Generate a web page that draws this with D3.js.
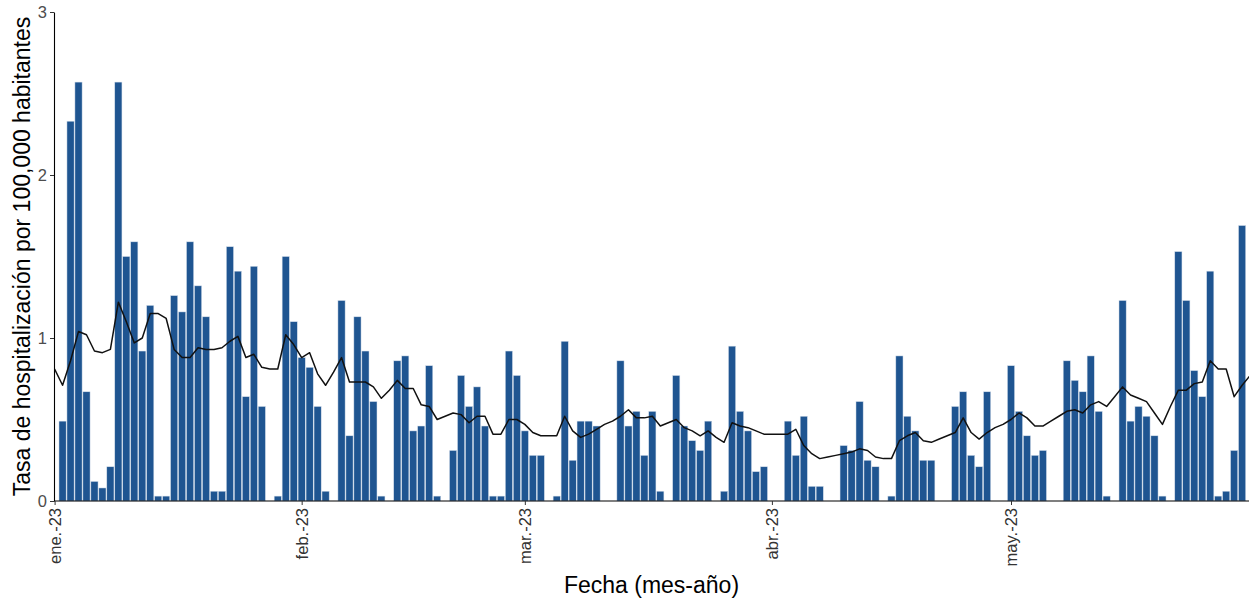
<!DOCTYPE html>
<html lang="es">
<head>
<meta charset="utf-8">
<script src="https://cdn.jsdelivr.net/npm/d3@7"></script>
<style>
  html, body { margin: 0; padding: 0; background: #ffffff; }
  svg { display: block; font-family: "Liberation Sans", Arial, sans-serif; }
</style>
</head>
<body>
<svg id="chart" width="1249" height="599"></svg>
<script>
// Daily hospitalisation rate per 100,000 inhabitants, from 1 Jan 2023 (one value per day)
const dailyRate = [
  0, 0.49, 2.33, 2.57, 0.67, 0.12, 0.08, 0.21, 2.57, 1.50,
  1.59, 0.92, 1.20, 0.03, 0.03, 1.26, 1.16, 1.59, 1.32, 1.13,
  0.06, 0.06, 1.56, 1.41, 0.64, 1.44, 0.58, 0, 0.03, 1.50,
  1.10, 0.88, 0.82, 0.58, 0.06, 0, 1.23, 0.40, 1.13, 0.92,
  0.61, 0.03, 0, 0.86, 0.89, 0.43, 0.46, 0.83, 0.03, 0,
  0.31, 0.77, 0.58, 0.70, 0.46, 0.03, 0.03, 0.92, 0.77, 0.43,
  0.28, 0.28, 0, 0.03, 0.98, 0.25, 0.49, 0.49, 0.46, 0,
  0, 0.86, 0.46, 0.55, 0.28, 0.55, 0.06, 0, 0.77, 0.46,
  0.37, 0.31, 0.49, 0, 0.06, 0.95, 0.55, 0.43, 0.18, 0.21,
  0, 0, 0.49, 0.28, 0.52, 0.09, 0.09, 0, 0, 0.34,
  0.31, 0.61, 0.25, 0.21, 0, 0.03, 0.89, 0.52, 0.43, 0.25,
  0.25, 0, 0, 0.58, 0.67, 0.28, 0.21, 0.67, 0, 0,
  0.83, 0.55, 0.40, 0.28, 0.31, 0, 0, 0.86, 0.74, 0.67,
  0.89, 0.55, 0.03, 0, 1.23, 0.49, 0.58, 0.52, 0.40, 0.03,
  0, 1.53, 1.23, 0.80, 0.64, 1.41, 0.03, 0.06, 0.31, 1.69
];

// Moving average of the daily rate, from 1 Jan 2023 to 31 May 2023
const movingAvg = [
  0.81, 0.71, 0.86, 1.04, 1.02, 0.92, 0.91, 0.93, 1.22, 1.10,
  0.97, 1.00, 1.15, 1.15, 1.12, 0.93, 0.88, 0.88, 0.94, 0.93,
  0.93, 0.94, 0.98, 1.01, 0.88, 0.90, 0.82, 0.81, 0.81, 1.02,
  0.96, 0.88, 0.91, 0.78, 0.71, 0.79, 0.88, 0.73, 0.73, 0.73,
  0.70, 0.63, 0.68, 0.74, 0.69, 0.69, 0.59, 0.58, 0.50, 0.52,
  0.54, 0.53, 0.48, 0.52, 0.52, 0.41, 0.41, 0.50, 0.50, 0.47,
  0.42, 0.40, 0.40, 0.40, 0.52, 0.43, 0.39, 0.41, 0.44, 0.47,
  0.49, 0.52, 0.56, 0.51, 0.51, 0.52, 0.46, 0.48, 0.50, 0.45,
  0.43, 0.40, 0.43, 0.39, 0.36, 0.48, 0.46, 0.45, 0.43, 0.41,
  0.41, 0.41, 0.41, 0.44, 0.34, 0.29, 0.26, 0.27, 0.28, 0.29,
  0.30, 0.32, 0.31, 0.27, 0.26, 0.26, 0.37, 0.40, 0.42, 0.37,
  0.36, 0.38, 0.40, 0.42, 0.51, 0.42, 0.38, 0.42, 0.45, 0.47,
  0.50, 0.54, 0.51, 0.46, 0.46, 0.49, 0.52, 0.55, 0.56, 0.54,
  0.59, 0.61, 0.58, 0.64, 0.70, 0.65, 0.63, 0.61, 0.54, 0.47,
  0.58, 0.68, 0.68, 0.72, 0.73, 0.86, 0.81, 0.81, 0.64, 0.71,
  0.77
];

const yTicks = [0, 1, 2, 3];
const monthLabels = ["ene.-23", "feb.-23", "mar.-23", "abr.-23", "may.-23"];
const yTitle = "Tasa de hospitalización por 100,000 habitantes";
const xTitle = "Fecha (mes-año)";

const startDay = Date.UTC(2023, 0, 1);
const dayMs = 86400000;
const dayDate = i => new Date(startDay + i * dayMs);

const bars = dailyRate.map((v, i) => ({ date: dayDate(i), value: v }));
const avg = movingAvg.map((v, i) => ({ date: dayDate(i), value: v }));
const monthTicks = monthLabels.map((label, m) => ({ date: new Date(Date.UTC(2023, m, 1)), label }));

const svg = d3.select("#chart");
const plot = { left: 54, right: 1249, top: 12, bottom: 501 };

const x = d3.scaleUtc()
  .domain([dayDate(0), dayDate(150)])
  .range([54.6, 1250.1]);

const y = d3.scaleLinear()
  .domain([0, 3])
  .range([plot.bottom, plot.top]);

const step = x(dayDate(1)) - x(dayDate(0));
const barW = step * 0.9;

svg.append("defs").append("clipPath").attr("id", "plot-clip")
  .append("rect")
  .attr("x", plot.left).attr("y", 0)
  .attr("width", plot.right - plot.left).attr("height", plot.bottom + 1);

const marks = svg.append("g").attr("clip-path", "url(#plot-clip)");

// Daily bars
marks.append("g")
  .selectAll("rect")
  .data(bars.filter(d => d.value > 0))
  .join("rect")
  .attr("x", d => x(d.date) - barW / 2)
  .attr("y", d => y(d.value))
  .attr("width", barW)
  .attr("height", d => y(0) - y(d.value))
  .attr("fill", "#1f5591")
  .attr("stroke", "#d6e0ec")
  .attr("stroke-width", 0.5);

// Moving-average line
marks.append("path")
  .datum(avg)
  .attr("fill", "none")
  .attr("stroke", "#111111")
  .attr("stroke-width", 1.5)
  .attr("stroke-linejoin", "round")
  .attr("d", d3.line().x(d => x(d.date)).y(d => y(d.value)));

// Y axis
const yAxis = svg.append("g")
  .attr("transform", `translate(${plot.left},0)`)
  .call(d3.axisLeft(y).tickValues(yTicks).tickFormat(d3.format("d")).tickSize(4).tickSizeOuter(0));
yAxis.select(".domain").attr("stroke", "#000").attr("stroke-width", 1.1);
yAxis.selectAll(".tick line").attr("stroke", "#333");
yAxis.selectAll(".tick text")
  .attr("fill", "#4d4d4d")
  .attr("font-size", 16.5)
  .attr("x", -7)
  .attr("font-family", "Liberation Sans, Arial, sans-serif");

// X axis
const xAxis = svg.append("g")
  .attr("transform", `translate(0,${plot.bottom})`)
  .call(d3.axisBottom(x)
    .tickValues(monthTicks.map(d => d.date))
    .tickFormat((d, i) => monthTicks[i].label)
    .tickSize(4)
    .tickSizeOuter(0));
xAxis.select(".domain")
  .attr("d", `M${plot.left},0H${plot.right}`)
  .attr("stroke", "#000").attr("stroke-width", 1.1);
xAxis.selectAll(".tick line").attr("stroke", "#333");
xAxis.selectAll(".tick text")
  .attr("fill", "#333333")
  .attr("font-size", 16.5)
  .attr("font-family", "Liberation Sans, Arial, sans-serif")
  .attr("transform", "rotate(-90)")
  .attr("text-anchor", "end")
  .attr("x", -7)
  .attr("y", 0)
  .attr("dy", "0.35em");

// Axis titles
svg.append("text")
  .attr("transform", `translate(30,${(plot.top + plot.bottom) / 2}) rotate(-90)`)
  .attr("text-anchor", "middle")
  .attr("font-size", 23)
  .attr("fill", "#000")
  .text(yTitle);

svg.append("text")
  .attr("x", (plot.left + plot.right) / 2)
  .attr("y", 593)
  .attr("text-anchor", "middle")
  .attr("font-size", 23)
  .attr("fill", "#000")
  .text(xTitle);
</script>
</body>
</html>
